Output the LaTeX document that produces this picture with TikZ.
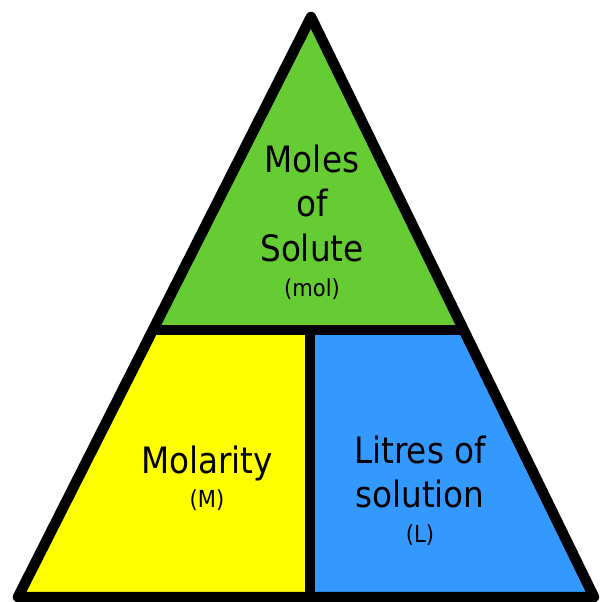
\documentclass[tikz,border=0pt]{standalone}
\usepackage{fontspec}
\setmainfont{DejaVu Sans Condensed}
\usetikzlibrary{calc}
\definecolor{molgreen}{RGB}{102,204,51}
\definecolor{molyellow}{RGB}{255,255,0}
\definecolor{molblue}{RGB}{51,153,255}

\begin{document}
\begin{tikzpicture}[x=0.03cm, y=-0.03cm,
  edge/.style={line width=0.315cm, line join=round},
  big/.style={font=\fontsize{31}{38}\selectfont, align=center, inner sep=0pt},
  unit/.style={font=\fontsize{20}{24}\selectfont, inner sep=0pt}]
\useasboundingbox (0,0) rectangle (600,602);
% corners of the pyramid and of the dividers
\coordinate (apex) at (311,17);
\coordinate (bl) at (18,597);
\coordinate (br) at (594,597);
\coordinate (ml) at ($(apex)!0.5397!(bl)$);
\coordinate (mr) at ($(apex)!0.5397!(br)$);
\coordinate (mt) at (310,330);
\coordinate (mb) at (310,597);
% fills
\fill[molgreen] (apex) -- (ml) -- (mr) -- cycle;
\fill[molyellow] (ml) -- (bl) -- (mb) -- (mt) -- cycle;
\fill[molblue] (mt) -- (mb) -- (br) -- (mr) -- cycle;
% outline and dividers
\draw[edge] (ml) -- (mr);
\draw[edge] (mt) -- (mb);
\draw[edge] (apex) -- (bl) -- (br) -- cycle;
% labels
\node[big] (moles) at (312,203) {Moles\\of\\Solute};
\node[unit] (mol) at (312,289) {(mol)};
\node[big] (molarity) at (207,463) {Molarity};
\node[unit] (m) at (207,500) {(M)};
\node[big] (litres) at (420,472) {Litres of\\solution};
\node[unit] (l) at (420,535) {(L)};
\end{tikzpicture}
\end{document}
